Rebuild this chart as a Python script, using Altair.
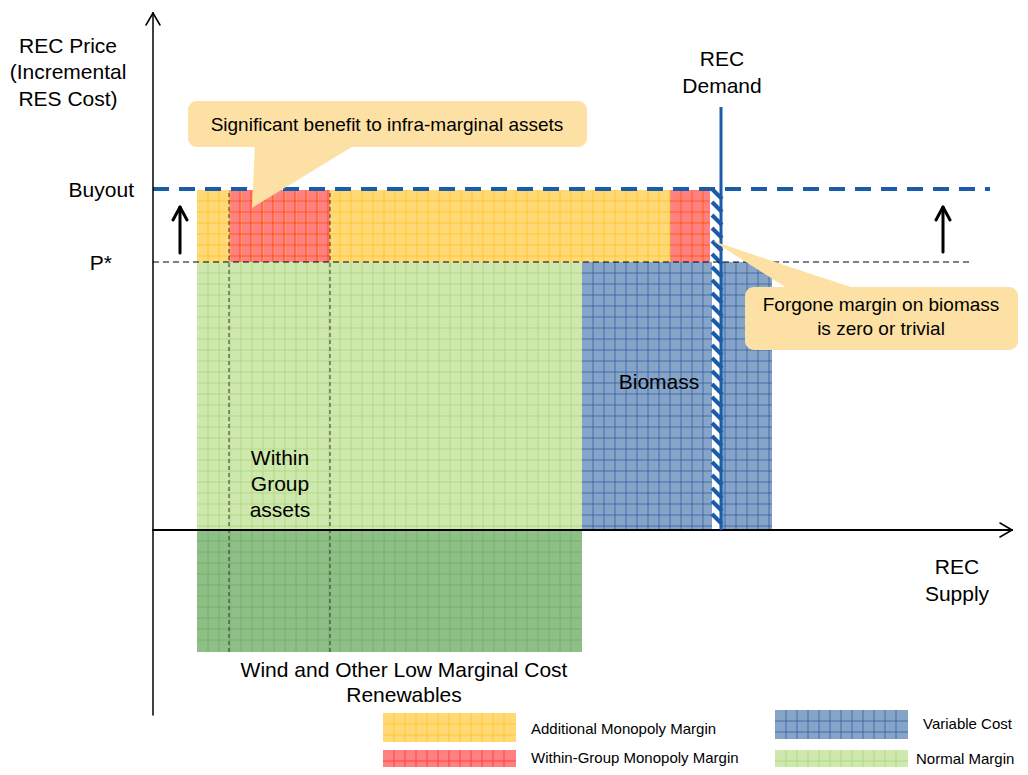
import altair as alt
import pandas as pd

# ---------------- values (supply on x, price on y; origin = axes crossing) ----
P_STAR = 268
BUYOUT = 341
DEMAND_Q = 568
WIND_COST_DEPTH = -122

blk_name = ["Normal Margin", "Wind cost", "Additional Monopoly Margin",
            "Within-Group Monopoly Margin", "Within-Group Monopoly Margin", "Variable Cost"]
blk_x0 = [44, 44, 44, 76, 517, 429]
blk_x1 = [429, 429, 557, 177, 557, 619]
blk_y0 = [0, WIND_COST_DEPTH, P_STAR, P_STAR, P_STAR, 0]
blk_y1 = [P_STAR, 0, 340, 340, 340, P_STAR]

group_edges = [76, 177]          # within-group asset boundaries
striped_x = [559, 569]           # forgone biomass sliver

FILL = {"Normal Margin": "#CFE8AE", "Wind cost": "#8EBF86",
        "Additional Monopoly Margin": "#FFD976", "Within-Group Monopoly Margin": "#FF8080",
        "Variable Cost": "#86A3C8"}
GRID = {"Normal Margin": "#A8D475", "Wind cost": "#6FAE64",
        "Additional Monopoly Margin": "#FFC21F", "Within-Group Monopoly Margin": "#FF2B2B",
        "Variable Cost": "#2F5F9E"}
BLUE = "#1A5CA8"
CALLOUT = "#FDE0A3"
FONT = "Liberation Sans"

W, H = 1012, 759
xs = alt.Scale(domain=[-145, 867], nice=False, zero=False)
ys = alt.Scale(domain=[-237, 522], nice=False, zero=False)


def enc_rect():
    return dict(x=alt.X("x:Q", scale=xs, axis=None), x2="x2:Q",
                y=alt.Y("y:Q", scale=ys, axis=None), y2="y2:Q")


# ---------------- blocks + legend swatches ----------------
leg_name = ["Additional Monopoly Margin", "Within-Group Monopoly Margin", "Variable Cost", "Normal Margin"]
leg_x0 = [230, 230, 622, 622]
leg_x1 = [363, 363, 755, 755]
leg_y0 = [-212, -245, -209, -245]
leg_y1 = [-183, -220, -180, -220]

rects = []
for n, a, b, c, d in zip(blk_name, blk_x0, blk_x1, blk_y0, blk_y1):
    rects.append(dict(x=a, x2=b, y=c, y2=d, k=n))
for n, a, b, c, d in zip(leg_name, leg_x0, leg_x1, leg_y0, leg_y1):
    rects.append(dict(x=a, x2=b, y=c, y2=d, k=n))

grid = []
step = 11
for r in rects:
    col = GRID[r["k"]]
    x = r["x"] + step
    while x < r["x2"] - 1:
        grid.append(dict(x=x, x2=x, y=r["y"], y2=r["y2"], c=col))
        x += step
    y = r["y2"] - step
    while y > r["y"] + 1:
        grid.append(dict(x=r["x"], x2=r["x2"], y=y, y2=y, c=col))
        y -= step
for r in rects:
    r["c"] = FILL[r["k"]]

rect_df = pd.DataFrame(rects)
grid_df = pd.DataFrame(grid)

fills = alt.Chart(rect_df).mark_rect().encode(**enc_rect(), color=alt.Color("c:N", scale=None))
grid_lines = alt.Chart(grid_df).mark_rule(strokeWidth=1, opacity=0.75).encode(
    **enc_rect(), color=alt.Color("c:N", scale=None))

# ---------------- striped sliver ----------------
sliver = alt.Chart(pd.DataFrame([dict(x=striped_x[0], x2=striped_x[1], y=0, y2=BUYOUT)])).mark_rect(
    color="white").encode(**enc_rect())
stripes = []
yk = BUYOUT
while yk - 10 >= 0:
    stripes.append(dict(x=striped_x[0], x2=striped_x[1], y=yk, y2=yk - 10))
    yk -= 13
stripe_lines = alt.Chart(pd.DataFrame(stripes)).mark_rule(color=BLUE, strokeWidth=4).encode(**enc_rect())

# ---------------- reference lines ----------------
buyout = alt.Chart(pd.DataFrame([dict(x=0, x2=837, y=BUYOUT, y2=BUYOUT)])).mark_rule(
    color=BLUE, strokeWidth=4, strokeDash=[16, 10]).encode(**enc_rect())
pstar = alt.Chart(pd.DataFrame([dict(x=0, x2=817, y=P_STAR, y2=P_STAR)])).mark_rule(
    color="black", strokeWidth=1, strokeDash=[6, 4]).encode(**enc_rect())
vdash = alt.Chart(pd.DataFrame([dict(x=g, x2=g, y=WIND_COST_DEPTH, y2=340) for g in group_edges])).mark_rule(
    color="#333333", strokeWidth=1, strokeDash=[4, 3]).encode(**enc_rect())
demand = alt.Chart(pd.DataFrame([dict(x=DEMAND_Q, x2=DEMAND_Q, y=0, y2=423)])).mark_rule(
    color=BLUE, strokeWidth=3).encode(**enc_rect())

# ---------------- axes and arrows ----------------
axes_df = pd.DataFrame([
    dict(x=0, x2=0, y=-185, y2=517, w=1.5),
    dict(x=-7, x2=0, y=505, y2=517, w=1.5),
    dict(x=7, x2=0, y=505, y2=517, w=1.5),
    dict(x=0, x2=859, y=0, y2=0, w=2),
    dict(x=847, x2=859, y=7, y2=0, w=1.5),
    dict(x=847, x2=859, y=-7, y2=0, w=1.5),
    dict(x=27, x2=27, y=277, y2=322, w=3),
    dict(x=20, x2=27, y=310, y2=323, w=3),
    dict(x=34, x2=27, y=310, y2=323, w=3),
    dict(x=790, x2=790, y=278, y2=322, w=3),
    dict(x=783, x2=790, y=310, y2=323, w=3),
    dict(x=797, x2=790, y=310, y2=323, w=3),
])
axes = alt.Chart(axes_df).mark_rule(color="black", strokeCap="round").encode(
    **enc_rect(), strokeWidth=alt.StrokeWidth("w:Q", scale=None))

# ---------------- callouts ----------------
boxes = alt.Chart(pd.DataFrame([dict(x=35, x2=434, y=383, y2=429),
                                dict(x=592, x2=865, y=180, y2=243)])).mark_rect(
    color=CALLOUT, cornerRadius=9).encode(**enc_rect())
wedge_df = pd.DataFrame([
    dict(id=1, x=99, y=322, y2=322), dict(id=1, x=102, y=385, y2=324), dict(id=1, x=202, y=385, y2=385),
    dict(id=2, x=560, y=289, y2=289), dict(id=2, x=637, y=263, y2=240), dict(id=2, x=707, y=240, y2=240),
])
wedges = alt.Chart(wedge_df).mark_area(color=CALLOUT, interpolate="linear").encode(
    x=alt.X("x:Q", scale=xs, axis=None), y=alt.Y("y:Q", scale=ys, axis=None), y2="y2:Q",
    detail="id:N")

# ---------------- text ----------------
def texts(rows, size, align):
    return alt.Chart(pd.DataFrame(rows)).mark_text(
        font=FONT, fontSize=size, align=align, baseline="middle", color="black").encode(
        x=alt.X("x:Q", scale=xs, axis=None), y=alt.Y("y:Q", scale=ys, axis=None), text="t:N")

big_center = texts([
    dict(x=-85, y=483, t="REC Price"), dict(x=-85, y=457, t="(Incremental"), dict(x=-85, y=430, t="RES Cost)"),
    dict(x=569, y=470, t="REC"), dict(x=569, y=443, t="Demand"),
    dict(x=804, y=-38, t="REC"), dict(x=804, y=-65, t="Supply"),
    dict(x=127, y=71, t="Within"), dict(x=127, y=45, t="Group"), dict(x=127, y=19, t="assets"),
    dict(x=506, y=147, t="Biomass"),
    dict(x=251, y=-141, t="Wind and Other Low Marginal Cost"), dict(x=251, y=-166, t="Renewables"),
], 21, "center")
big_right = texts([dict(x=-19, y=339, t="Buyout"), dict(x=-41, y=266, t="P*")], 21, "right")
callout_txt = texts([
    dict(x=234, y=405, t="Significant benefit to infra-marginal assets"),
    dict(x=728, y=225, t="Forgone margin on biomass"), dict(x=728, y=201, t="is zero or trivial"),
], 19, "center")
legend_txt = texts([
    dict(x=378, y=-199, t="Additional Monopoly Margin"),
    dict(x=378, y=-228, t="Within-Group Monopoly Margin"),
    dict(x=770, y=-194, t="Variable Cost"),
    dict(x=763, y=-229, t="Normal Margin"),
], 15, "left")

chart = alt.layer(
    fills, grid_lines, sliver, stripe_lines, pstar, vdash, buyout, axes, demand,
    wedges, boxes, big_center, big_right, callout_txt, legend_txt,
).properties(width=W, height=H, padding=0, autosize=alt.AutoSizeParams(type="none")
).configure_view(stroke=None)

chart.save("out.html", embed_options={"renderer": "svg", "actions": False})
